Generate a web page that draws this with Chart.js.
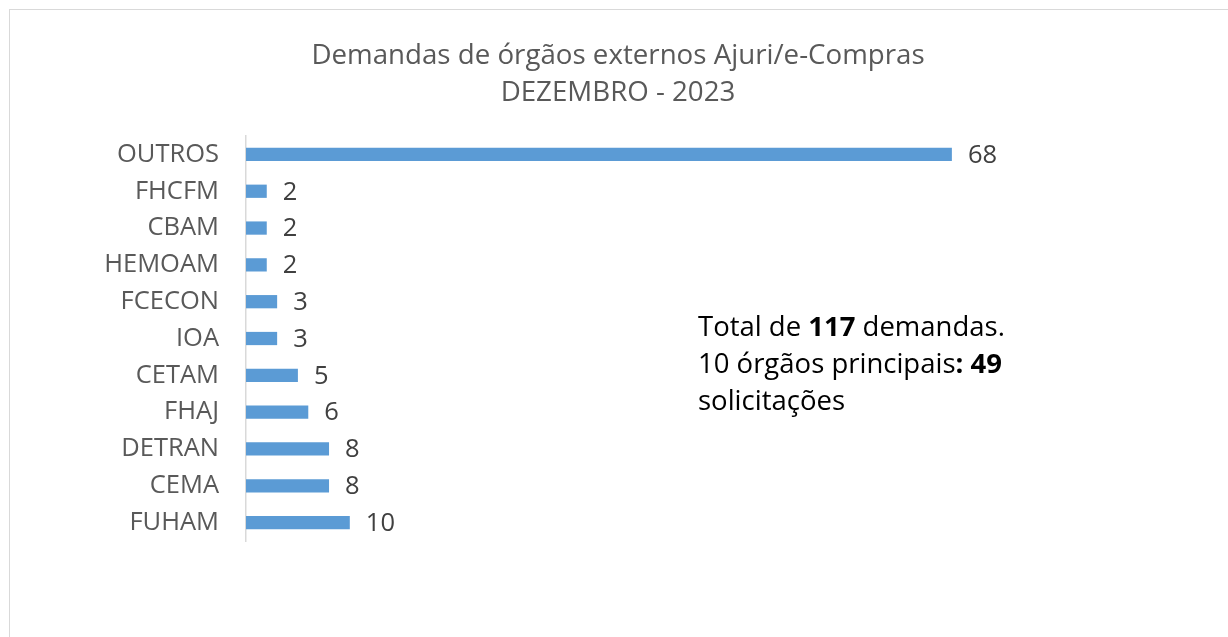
<!DOCTYPE html>
<html>
<head>
<meta charset="utf-8">
<script src="https://cdn.jsdelivr.net/npm/chart.js@4"></script>
<style>
  html, body { margin: 0; padding: 0; background: #fff; overflow: hidden; }
  #wrap { position: relative; width: 1228px; height: 637px; }
  #frame { position: absolute; left: 9px; top: 9px; width: 1300px; height: 700px; border: 1px solid #d9d9d9; }
  #note { position: absolute; left: 698px; top: 307px; font: 27.5px "Open Sans", sans-serif; line-height: 37px; color: #000; }
</style>
</head>
<body>
<div id="wrap">
  <div id="frame"></div>
  <canvas id="chart" width="1228" height="637"></canvas>
  <div id="note">Total de <b>117</b> demandas.<br>10 órgãos principais<b>: 49</b><br>solicitações</div>
</div>
<script>
const orgaos = ['OUTROS', 'FHCFM', 'CBAM', 'HEMOAM', 'FCECON', 'IOA', 'CETAM', 'FHAJ', 'DETRAN', 'CEMA', 'FUHAM'];
const demandas = [68, 2, 2, 2, 3, 3, 5, 6, 8, 8, 10];
const tituloLinhas = ['Demandas de órgãos externos Ajuri/e-Compras', 'DEZEMBRO - 2023'];

// numbers next to each bar
const valueLabels = {
  id: 'valueLabels',
  afterDatasetsDraw(chart) {
    const ctx = chart.ctx;
    const meta = chart.getDatasetMeta(0);
    ctx.save();
    ctx.font = '25.5px "Open Sans", sans-serif';
    ctx.fillStyle = '#404040';
    ctx.textAlign = 'left';
    ctx.textBaseline = 'middle';
    meta.data.forEach((bar, i) => {
      ctx.fillText(String(demandas[i]), bar.x + 16, bar.y + 1);
    });
    ctx.restore();
  }
};

new Chart(document.getElementById('chart').getContext('2d'), {
  type: 'bar',
  data: {
    labels: orgaos,
    datasets: [{
      data: demandas,
      backgroundColor: '#5b9bd5',
      borderWidth: 0,
      categoryPercentage: 1,
      barPercentage: 0.36
    }]
  },
  options: {
    indexAxis: 'y',
    responsive: false,
    animation: false,
    layout: { padding: { left: 8, right: 0, top: 0, bottom: 96 } },
    scales: {
      x: { display: false, min: 0, max: 94.6 },
      y: {
        grid: { display: false, drawTicks: false },
        border: { display: true, color: '#d9d9d9', width: 1.5 },
        ticks: { color: '#595959', font: { family: 'Open Sans', size: 25.5 }, padding: 27 },
        afterFit(scale) { scale.width = 238; }
      }
    },
    plugins: {
      legend: { display: false },
      tooltip: { enabled: false },
      title: {
        display: true,
        text: tituloLinhas,
        color: '#595959',
        font: { family: 'Open Sans', size: 27.7, weight: 'normal', lineHeight: 1.336 },
        padding: { top: 38, bottom: 24 }
      }
    }
  },
  plugins: [valueLabels]
});
</script>
</body>
</html>
